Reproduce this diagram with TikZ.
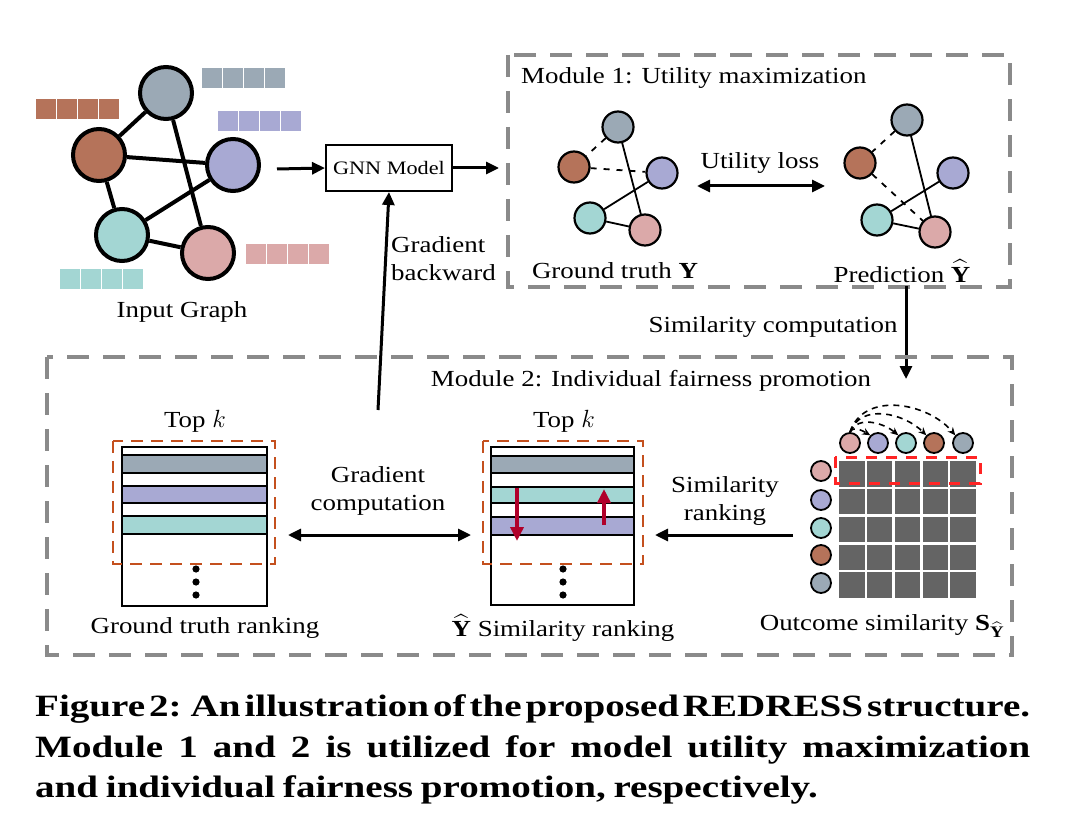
\documentclass[tikz,border=0pt]{standalone}
\usepackage{amsmath}
\usepackage{fontspec}
\setmainfont{Liberation Serif}[FakeStretch=1.17]
\newfontfamily\capfont{Liberation Serif}[FakeStretch=1.26]
\newcommand{\capline}[1]{\fontsize{31}{37}\capfont\bfseries\spaceskip=0.25em plus 1em minus 0.22em\relax #1}
\newcommand{\hatY}{\ensuremath{\widehat{\text{\textbf{Y}}}}}
\usetikzlibrary{arrows.meta}
\definecolor{cgray}{HTML}{9BA9B5}
\definecolor{cbrown}{HTML}{B5735A}
\definecolor{cpurple}{HTML}{A8A9D3}
\definecolor{cteal}{HTML}{A3D6D3}
\definecolor{cpink}{HTML}{DBA9A9}
\definecolor{rankred}{HTML}{C4501E}
\definecolor{matred}{HTML}{FF2424}
\definecolor{arrred}{HTML}{B0002A}
\definecolor{cellgray}{HTML}{646464}
\definecolor{modgray}{HTML}{8A8A8A}
\tikzset{
  bigc/.style={circle,draw=black,line width=4pt,minimum size=52pt,inner sep=0pt},
  smallc/.style={circle,draw=black,line width=2.2pt,minimum size=31pt,inner sep=0pt},
  tinyc/.style={circle,draw=black,line width=1.8pt,minimum size=20pt,inner sep=0pt},
  bigedge/.style={line width=4pt},
  smalledge/.style={line width=1.8pt},
  smalldash/.style={line width=1.8pt,dash pattern=on 6pt off 7pt},
  modbox/.style={draw=modgray,line width=4.5pt,dash pattern=on 22pt off 14pt},
  topk/.style={draw=rankred,line width=2.8pt,dash pattern=on 12pt off 8pt},
  arr/.style={line width=3pt,-{Triangle[length=13pt,width=12pt]}},
  darr/.style={line width=3pt,{Triangle[length=13pt,width=12pt]}-{Triangle[length=13pt,width=12pt]}},
  lbl/.style={font=\fontsize{23}{28}\selectfont,inner sep=0pt,align=center},
  redarr/.style={draw=arrred,line width=4pt,-{Triangle[length=14pt,width=13pt]}},
  rowline/.style={line width=2pt},
  arc/.style={line width=1.6pt,dash pattern=on 6pt off 5pt,-{Stealth[length=8pt,width=7pt]}},
  caption/.style={anchor=base west,inner sep=0pt},
}
\begin{document}
\begin{tikzpicture}[x=1pt,y=-1pt]
\useasboundingbox (0,0) rectangle (1092,826);
\fill[white] (0,0) rectangle (1092,826);

% ---------- Input graph ----------
\foreach \x/\y/\c in {202/68/cgray,36/99/cbrown,218/111/cpurple,246/244/cpink,60/269/cteal}{
  \foreach \i in {0,1,2,3}{
    \fill[\c] (\x+\i*21,\y) rectangle ++(20,20);
  }
}
\node[bigc,fill=cgray]   (ig) at (166,93) {};
\node[bigc,fill=cbrown]  (ib) at (99,155) {};
\node[bigc,fill=cpurple] (ip) at (233,165) {};
\node[bigc,fill=cteal]   (it) at (122,235) {};
\node[bigc,fill=cpink]   (ik) at (208,253) {};
\draw[bigedge] (ig) -- (ib);
\draw[bigedge] (ig) -- (ik);
\draw[bigedge] (ib) -- (ip);
\draw[bigedge] (ib) -- (it);
\draw[bigedge] (it) -- (ip);
\draw[bigedge] (it) -- (ik);
\node[lbl] (inlbl) at (182,312) {Input Graph};

% ---------- GNN ----------
\coordinate (inout) at (277,169);
\node[draw,line width=2pt,minimum width=126pt,minimum height=46pt,inner sep=0pt,
      font=\fontsize{19}{22}\selectfont] (gnn) at (389,168) {GNN Model};
\coordinate (m1in) at (499,168);
\draw[arr] (inout) -- (gnn.west);
\draw[arr] (gnn.east) -- (m1in);

% ---------- Module 1 ----------
\draw[modbox] (508,55) rectangle (1010,287);
\node[lbl,anchor=west] (m1t) at (521,78) {Module 1: Utility maximization};

\node[smallc,fill=cgray]   (ag) at (618,127) {};
\node[smallc,fill=cbrown]  (ab) at (574,167) {};
\node[smallc,fill=cpurple] (ap) at (662,173) {};
\node[smallc,fill=cteal]   (at) at (590,218) {};
\node[smallc,fill=cpink]   (ak) at (645,230) {};
\draw[smalldash] (ag) -- (ab);
\draw[smalldash] (ab) -- (ap);
\draw[smalledge] (ag) -- (ak);
\draw[smalledge] (at) -- (ap);
\draw[smalledge] (at) -- (ak);

\node[smallc,fill=cgray]   (bg) at (907,120) {};
\node[smallc,fill=cbrown]  (bb) at (860,163) {};
\node[smallc,fill=cpurple] (bp) at (953,173) {};
\node[smallc,fill=cteal]   (bt) at (877,220) {};
\node[smallc,fill=cpink]   (bk) at (935,232) {};
\draw[smalldash] (bg) -- (bb);
\draw[smalldash] (bb) -- (bk);
\draw[smalledge] (bg) -- (bk);
\draw[smalledge] (bt) -- (bp);
\draw[smalledge] (bt) -- (bk);

\coordinate (ulA) at (697,186);
\coordinate (ulB) at (825,186);
\draw[darr] (ulA) -- (ulB);
\node[lbl] (ul) at (760,163) {Utility loss};
\node[lbl] (gtY) at (615,271) {Ground truth \textbf{Y}};
\node[lbl] (prY) at (902,271) {Prediction \hatY};

% ---------- between modules ----------
\coordinate (scA) at (906,286);
\coordinate (scB) at (906,379);
\draw[arr] (scA) -- (scB);
\node[lbl] (sc) at (773,327) {Similarity computation};

\coordinate (gbA) at (378,410);
\draw[arr] (gbA) -- (gnn.south);
\node[lbl,anchor=west,align=left] (gb) at (391,259) {Gradient\\backward};

% ---------- Module 2 ----------
\draw[modbox] (47,357) rectangle (1012,655);
\node[lbl] (m2t) at (651,381) {Module 2: Individual fairness promotion};

% ground truth ranking
\fill[cgray]   (122,455) rectangle (267,473);
\fill[cpurple] (122,486) rectangle (267,503);
\fill[cteal]   (122,516) rectangle (267,534);
\foreach \yy in {455,473,486,503,516,534}{\draw[rowline] (122,\yy) -- (267,\yy);}
\node[draw,line width=2pt,minimum width=145pt,minimum height=159pt,inner sep=0pt] (gr) at (194.5,526) {};
\foreach \yy in {569,582,595}{\fill (196,\yy) circle (3.6pt);}
\draw[topk] (113,441) rectangle (275,564);
\node[lbl] (tk1) at (195,421) {Top $k$};
\node[lbl] (grl) at (205,628) {Ground truth ranking};

% similarity ranking
\fill[cgray]   (491,456) rectangle (634,473);
\fill[cteal]   (491,487) rectangle (634,503);
\fill[cpurple] (491,517) rectangle (634,535);
\foreach \yy in {456,473,487,503,517,535}{\draw[rowline] (491,\yy) -- (634,\yy);}
\node[draw,line width=2pt,minimum width=143pt,minimum height=158pt,inner sep=0pt] (sr) at (562.5,526) {};
\foreach \yy in {569,582,595}{\fill (563,\yy) circle (3.6pt);}
\draw[topk] (483,441) rectangle (643,564);
\coordinate (rdA) at (517,488);
\coordinate (rdB) at (517,541);
\coordinate (ruA) at (604,525);
\coordinate (ruB) at (604,489);
\draw[redarr] (rdA) -- (rdB);
\draw[redarr] (ruA) -- (ruB);
\node[lbl] (tk2) at (564,421) {Top $k$};
\node[lbl] (srl) at (563,628) {\hatY\ Similarity ranking};

% arrows between rankings
\coordinate (gcA) at (288,535);
\coordinate (gcB) at (471,535);
\draw[darr] (gcA) -- (gcB);
\node[lbl] (gc) at (378,491) {Gradient\\computation};
\coordinate (srA) at (793,535);
\coordinate (srB) at (655,535);
\draw[arr] (srA) -- (srB);
\node[lbl] (srk) at (725,501) {Similarity\\ranking};

% similarity matrix
\foreach \i in {0,...,4}{
  \foreach \j in {0,...,4}{
    \fill[cellgray] (838+\j*27.8+1.2,460+\i*27.8+1.2) rectangle ++(25.4,25.4);
  }
}
\draw[matred,line width=3pt,dash pattern=on 11pt off 9pt] (835,457) rectangle (980,483);
\node[tinyc,fill=cpink]   (t1) at (850,443) {};
\node[tinyc,fill=cpurple] (t2) at (878,443) {};
\node[tinyc,fill=cteal]   (t3) at (906,443) {};
\node[tinyc,fill=cbrown]  (t4) at (934,443) {};
\node[tinyc,fill=cgray]   (t5) at (963,443) {};
\node[tinyc,fill=cpink]   (l1) at (821,471) {};
\node[tinyc,fill=cpurple] (l2) at (821,500) {};
\node[tinyc,fill=cteal]   (l3) at (821,528) {};
\node[tinyc,fill=cbrown]  (l4) at (821,555) {};
\node[tinyc,fill=cgray]   (l5) at (821,583) {};
\draw[arc] (t1.north) to[out=60,in=150] (t2.north west);
\draw[arc] (t1.north) to[out=65,in=140] (t3.north west);
\draw[arc] (t1.north) to[out=70,in=135,looseness=1.05] (t4.north west);
\draw[arc] (t1.north) to[out=72,in=130,looseness=1.05] (t5.north west);
\node[lbl] (osl) at (882,626) {Outcome similarity $\text{\textbf{S}}_{\widehat{\text{\textbf{Y}}}}$};

% ---------- caption ----------
\node[caption] (cap1) at (35,716)
  {\capline{\makebox[995pt][s]{Figure 2: An illustration of the proposed REDRESS structure.}}};
\node[caption] (cap2) at (35,757)
  {\capline{\makebox[995pt][s]{Module 1 and 2 is utilized for model utility maximization}}};
\node[caption] (cap3) at (35,797)
  {\capline{and individual fairness promotion, respectively.}};
\end{tikzpicture}
\end{document}
